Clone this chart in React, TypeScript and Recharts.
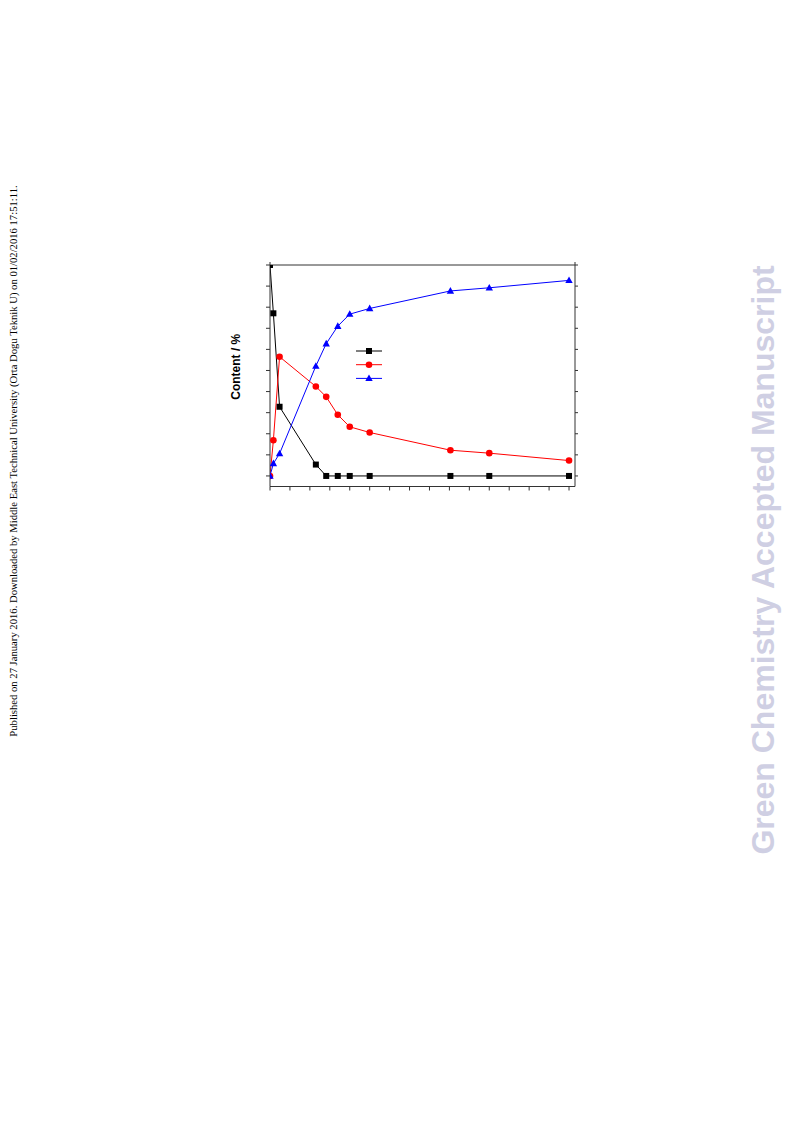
import React from "react";
import { LineChart, Line, XAxis, YAxis, Legend } from "recharts";

// reaction time (x) and composition of the three species (%)
const timeValues = [0, 1.7, 4.8, 23, 28.2, 34, 40, 50, 90.5, 110, 150];
const squareSeries = [100, 77.1, 32.8, 5.4, 0, 0, 0, 0, 0, 0, 0];
const circleSeries = [0, 16.9, 56.5, 42.4, 37.5, 29, 23.3, 20.6, 12.2, 10.8, 7.3];
const triangleSeries = [0, 5.9, 10.6, 52.1, 62.7, 71, 76.7, 79.4, 87.7, 89.2, 92.7];

const xTicks = [0, 10, 20, 30, 40, 50, 60, 70, 80, 90, 100, 110, 120, 130, 140, 150];
const yTicks = [0, 10, 20, 30, 40, 50, 60, 70, 80, 90, 100];

const yLabel = "Content / %";
const sideNote =
  "Published on 27 January 2016. Downloaded by Middle East Technical University (Orta Dogu Teknik U) on 01/02/2016 17:51:11.";
const watermark = "Green Chemistry Accepted Manuscript";

const data = timeValues.map((t, i) => ({
  t,
  s1: squareSeries[i],
  s2: circleSeries[i],
  s3: triangleSeries[i],
}));

type Shape = "square" | "circle" | "triangle";

const SERIES: { key: string; color: string; shape: Shape }[] = [
  { key: "s1", color: "#000000", shape: "square" },
  { key: "s2", color: "#ff0000", shape: "circle" },
  { key: "s3", color: "#0000ff", shape: "triangle" },
];

const AXIS = "#333333";

// ticks without numbers, only the tick marks
const noLabel = () => <g />;

function Marker({ shape, cx, cy, color }: { shape: Shape; cx: number; cy: number; color: string }) {
  if (cx == null || cy == null) return null;
  if (shape === "square") {
    return <rect x={cx - 3} y={cy - 3} width={6} height={6} fill={color} />;
  }
  if (shape === "circle") {
    return <circle cx={cx} cy={cy} r={3.3} fill={color} />;
  }
  return (
    <path
      d={`M${cx},${cy - 3.9} L${cx + 3.7},${cy + 2.7} L${cx - 3.7},${cy + 2.7} Z`}
      fill={color}
    />
  );
}

function LegendBox() {
  return (
    <svg width={27} height={42} style={{ display: "block" }}>
      {SERIES.map((s, i) => {
        const y = 7 + i * 13.7;
        return (
          <g key={s.key}>
            <line x1={0} x2={26} y1={y} y2={y} stroke={s.color} strokeWidth={1} />
            <Marker shape={s.shape} cx={13} cy={y} color={s.color} />
          </g>
        );
      })}
    </svg>
  );
}

export default function App() {
  return (
    <div style={{ position: "absolute", left: 0, top: 0, width: 793, height: 1121, background: "#fff" }}>
      <svg
        width={793}
        height={1121}
        style={{ position: "absolute", left: 0, top: 0 }}
      >
        <text
          x={17}
          y={461}
          transform="rotate(-90, 17, 461)"
          textAnchor="middle"
          fontFamily="Liberation Serif, serif"
          fontSize={10.65}
          fill="#000"
        >
          {sideNote}
        </text>
        <text
          x={774}
          y={560}
          transform="rotate(-90, 774, 560)"
          textAnchor="middle"
          fontFamily="Liberation Sans, Arial, sans-serif"
          fontWeight="bold"
          fontSize={32}
          fill="#cfcfe3"
        >
          {watermark}
        </text>
      </svg>
      <div style={{ position: "absolute", left: 220, top: 240 }}>
        <LineChart
          width={380}
          height={270}
          data={data}
          margin={{ top: 24, right: 24, bottom: 22.5, left: 49 }}
        >
          <XAxis
            xAxisId="bottom"
            dataKey="t"
            type="number"
            domain={[0, 153]}
            allowDataOverflow
            ticks={xTicks}
            interval={0}
            tick={noLabel}
            height={1}
            tickSize={4}
            stroke={AXIS}
          />
          <XAxis
            xAxisId="top"
            orientation="top"
            type="number"
            domain={[0, 153]}
            allowDataOverflow
            ticks={xTicks}
            interval={0}
            tick={noLabel}
            height={1}
            tickSize={3}
            stroke={AXIS}
          />
          <YAxis
            yAxisId="left"
            type="number"
            domain={[-5, 100]}
            allowDataOverflow
            ticks={yTicks}
            interval={0}
            tick={noLabel}
            width={1}
            tickSize={4}
            stroke={AXIS}
            label={(props: any) => {
              const vb = props.viewBox || { x: 269, y: 265, width: 1, height: 221 };
              const x = vb.x + (vb.width || 0) - 30;
              const y = vb.y + vb.height / 2 - 9;
              return (
                <text
                  x={x}
                  y={y}
                  transform={`rotate(-90, ${x}, ${y})`}
                  textAnchor="middle"
                  fontFamily="Liberation Sans, Arial, sans-serif"
                  fontWeight="bold"
                  fontSize={12}
                  fill="#000"
                >
                  {yLabel}
                </text>
              );
            }}
          />
          <YAxis
            yAxisId="right"
            orientation="right"
            type="number"
            domain={[-5, 100]}
            allowDataOverflow
            ticks={yTicks}
            interval={0}
            tick={noLabel}
            width={1}
            tickSize={3}
            stroke={AXIS}
          />
          <Legend
            layout="horizontal"
            verticalAlign="middle"
            align="center"
            wrapperStyle={{ left: 136, top: 104, width: 27, height: 42 }}
            content={() => <LegendBox />}
          />
          {SERIES.map((s) => (
            <Line
              key={s.key}
              xAxisId="bottom"
              yAxisId="left"
              dataKey={s.key}
              type="linear"
              stroke={s.color}
              strokeWidth={1}
              isAnimationActive={false}
              dot={(p: any) => (
                <Marker key={`${s.key}-${p.index}`} shape={s.shape} cx={p.cx} cy={p.cy} color={s.color} />
              )}
              activeDot={false}
            />
          ))}
        </LineChart>
      </div>
    </div>
  );
}
